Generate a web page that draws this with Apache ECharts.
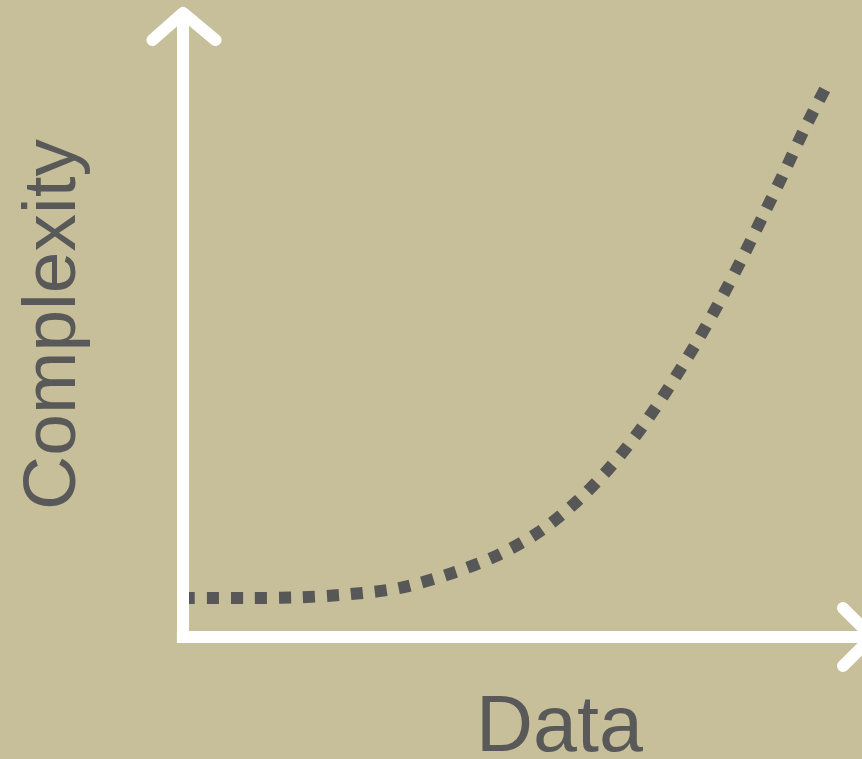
<!DOCTYPE html>
<html>
<head>
<meta charset="utf-8">
<script src="https://cdn.jsdelivr.net/npm/echarts@6/dist/echarts.min.js"></script>
<style>
html,body{margin:0;padding:0;background:#c6bf9a;}
#chart{width:862px;height:759px;}
</style>
</head>
<body>
<div id="chart"></div>
<script>
// Curve (Data vs Complexity, arbitrary 0-10 units)
const dataX      = [0.00, 0.99, 1.72, 2.46, 3.20, 3.98, 4.64, 5.26, 5.82, 6.32, 6.76, 7.16, 7.54, 7.89, 8.22, 8.54, 8.85, 9.16, 9.50];
const complexity = [0.62, 0.62, 0.63, 0.68, 0.78, 1.02, 1.30, 1.68, 2.17, 2.73, 3.33, 3.97, 4.63, 5.30, 5.98, 6.68, 7.37, 8.08, 8.79];
// Axis arrows (in the same units)
const yAxisLine  = [[0, -0.095], [0, 9.905]];
const yArrowHead = [[-0.45, 9.476], [0, 9.905], [0.48, 9.476]];
const xAxisLine  = [[-0.09, 0], [10.15, 0]];
const xArrowHead = [[9.72, 0.46], [10.15, 0], [9.72, -0.46]];
const xName = 'Data';
const yName = 'Complexity';

const curve = dataX.map((x, i) => [x, complexity[i]]);
const chart = echarts.init(document.getElementById('chart'));
const textColor = '#595959';
const white = '#ffffff';
function deco(name, data, cap) {
  return {
    name: name, type: 'lines', coordinateSystem: 'cartesian2d', polyline: true,
    data: [{ coords: data }], silent: true, clip: false, animation: false, z: 5,
    lineStyle: { color: white, width: 12, opacity: 1, cap: cap, join: 'round' }
  };
}
chart.setOption({
  backgroundColor: '#c6bf9a',
  animation: false,
  grid: { left: 183, right: 0, top: 7, bottom: 122, outerBoundsMode: 'none', containLabel: false },
  xAxis: {
    type: 'value', min: 0, max: 10,
    axisLine: { show: false }, axisTick: { show: false },
    axisLabel: { show: false }, splitLine: { show: false },
    name: xName, nameLocation: 'middle', nameGap: 53,
    nameTextStyle: { color: textColor, fontSize: 79, fontFamily: 'Liberation Sans, Arial, sans-serif', padding: [0, 0, 0, 74] }
  },
  yAxis: {
    type: 'value', min: 0, max: 10,
    axisLine: { show: false }, axisTick: { show: false },
    axisLabel: { show: false }, splitLine: { show: false },
    name: yName, nameLocation: 'middle', nameGap: 91, nameRotate: 90,
    nameTextStyle: { color: textColor, fontSize: 75, fontFamily: 'Liberation Sans, Arial, sans-serif', padding: [0, 5, 0, 0] }
  },
  series: [
    {
      name: 'curve', type: 'line', data: curve, smooth: 0.3,
      showSymbol: false, symbol: 'none', clip: false, z: 3,
      lineStyle: { color: '#575757', width: 12, type: [12, 12], dashOffset: 0, cap: 'butt' }
    },
    deco('yAxisLine', yAxisLine, 'butt'),
    deco('yArrow', yArrowHead, 'round'),
    deco('xAxisLine', xAxisLine, 'butt'),
    deco('xArrow', xArrowHead, 'round')
  ]
});
</script>
</body>
</html>
